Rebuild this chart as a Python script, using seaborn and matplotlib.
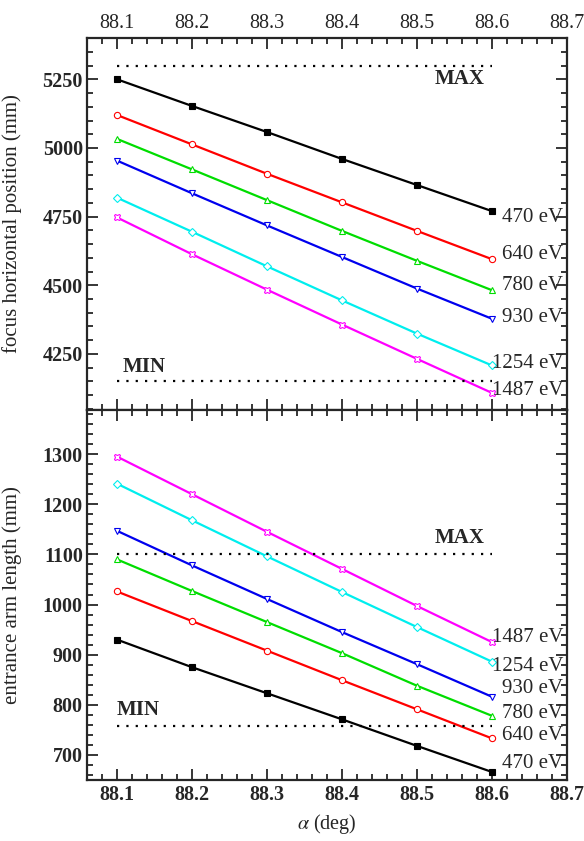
import numpy as np
import pandas as pd
import matplotlib
matplotlib.use("Agg")
import matplotlib.pyplot as plt
import seaborn as sns
from matplotlib.ticker import MultipleLocator

# ---------------- data ----------------
alpha = [88.1, 88.2, 88.3, 88.4, 88.5, 88.6]
energies = ["470 eV", "640 eV", "780 eV", "930 eV", "1254 eV", "1487 eV"]

focus_470 = [5250, 5153, 5058, 4960, 4865, 4770]
focus_640 = [5120, 5013, 4906, 4802, 4698, 4595]
focus_780 = [5033, 4922, 4810, 4698, 4589, 4482]
focus_930 = [4954, 4835, 4718, 4603, 4488, 4378]
focus_1254 = [4819, 4695, 4569, 4445, 4324, 4208]
focus_1487 = [4747, 4613, 4484, 4357, 4232, 4108]

arm_470 = [930, 875, 823, 771, 718, 666]
arm_640 = [1026, 967, 908, 849, 791, 733]
arm_780 = [1090, 1027, 965, 903, 838, 778]
arm_930 = [1147, 1078, 1011, 945, 881, 816]
arm_1254 = [1241, 1168, 1096, 1025, 955, 886]
arm_1487 = [1295, 1220, 1145, 1071, 997, 925]

focus_max, focus_min = 5300, 4150
arm_max, arm_min = 1100, 758

focus_series = [focus_470, focus_640, focus_780, focus_930, focus_1254, focus_1487]
arm_series = [arm_470, arm_640, arm_780, arm_930, arm_1254, arm_1487]

colors = ["black", "#ff0000", "#00dd00", "#0000ee", "#00eeee", "#ff00ff"]
markers = ["s", "o", "^", "v", "D", "X"]
filled = [True, False, False, False, False, False]

# ---------------- style ----------------
sns.set_theme(style="ticks")
plt.rcParams["font.family"] = ["Liberation Serif", "DejaVu Serif"]
plt.rcParams["mathtext.fontset"] = "stix"

fig = plt.figure(figsize=(5.84, 8.41), dpi=100)
left, right = 0.149, 0.971
ax1 = fig.add_axes([left, 0.5125, right - left, 0.955 - 0.5125])
ax2 = fig.add_axes([left, 0.0725, right - left, 0.5125 - 0.0725], sharex=ax1)


def draw(ax, series, vmax, vmin):
    for vals, c, m, f in zip(series, colors, markers, filled):
        df = pd.DataFrame({"alpha": alpha, "v": vals})
        sns.lineplot(data=df, x="alpha", y="v", ax=ax, color=c, lw=1.6,
                     marker=m, markersize=4.5,
                     markerfacecolor=(c if f else "white"),
                     markeredgecolor=c, markeredgewidth=0.8)
    ax.plot([alpha[0], alpha[-1]], [vmax, vmax], color="black", lw=1.6,
            ls=(0, (1, 3.2)))
    ax.plot([alpha[0], alpha[-1]], [vmin, vmin], color="black", lw=1.6,
            ls=(0, (1, 3.2)))
    ax.set_xlabel("")
    for s in ax.spines.values():
        s.set_linewidth(1.6)
        s.set_visible(True)
    ax.xaxis.set_major_locator(MultipleLocator(0.1))
    ax.xaxis.set_minor_locator(MultipleLocator(0.02))
    ax.tick_params(which="both", direction="in", top=True, bottom=True,
                   left=True, right=True, width=1.3)
    ax.tick_params(which="major", length=8)
    ax.tick_params(which="minor", length=4)


draw(ax1, focus_series, focus_max, focus_min)
draw(ax2, arm_series, arm_max, arm_min)

ax1.set_xlim(88.06, 88.7)
ax1.set_ylim(4046, 5401)
ax2.set_ylim(650, 1388)

ax1.yaxis.set_major_locator(MultipleLocator(250))
ax1.yaxis.set_minor_locator(MultipleLocator(50))
ax1.set_yticks([4250, 4500, 4750, 5000, 5250])
ax2.yaxis.set_major_locator(MultipleLocator(100))
ax2.yaxis.set_minor_locator(MultipleLocator(20))

ax1.tick_params(axis="x", labeltop=True, labelbottom=False, labelsize=14.5)
ax2.tick_params(axis="x", labeltop=False, labelbottom=True, labelsize=14.5)
for ax in (ax1, ax2):
    ax.tick_params(axis="y", labelsize=14.5, pad=3)
    for lab in ax.get_yticklabels():
        lab.set_fontweight("bold")
for lab in ax2.get_xticklabels():
    lab.set_fontweight("bold")
ax2.set_xticks(ax1.get_xticks())
ax1.set_xlim(88.06, 88.7)

ax1.set_ylabel("focus horizontal position (mm)", fontsize=15, labelpad=4)
ax2.set_ylabel("entrance arm length (mm)", fontsize=15, labelpad=4)
ax2.set_xlabel(r"$\alpha$ (deg)", fontsize=14.5, labelpad=5)
ax1.yaxis.set_label_coords(-0.135, 0.5)
ax2.yaxis.set_label_coords(-0.135, 0.5)

# MAX / MIN annotations
ax1.text(88.59, 5250, "MAX", ha="right", va="center", fontsize=15, fontweight="bold")
ax1.text(88.108, 4201, "MIN", ha="left", va="center", fontsize=15, fontweight="bold")
ax2.text(88.59, 1132, "MAX", ha="right", va="center", fontsize=15, fontweight="bold")
ax2.text(88.10, 790, "MIN", ha="left", va="center", fontsize=15, fontweight="bold")

# energy labels (text positions)
top_label_y = [4748, 4613, 4500, 4383, 4215, 4117]
bot_label_y = [682, 738, 782, 832, 876, 934]
for e, y in zip(energies, top_label_y):
    ax1.text(88.695, y, e, ha="right", va="center", fontsize=15)
for e, y in zip(energies, bot_label_y):
    ax2.text(88.695, y, e, ha="right", va="center", fontsize=15)

fig.savefig("out.png", dpi=100)
